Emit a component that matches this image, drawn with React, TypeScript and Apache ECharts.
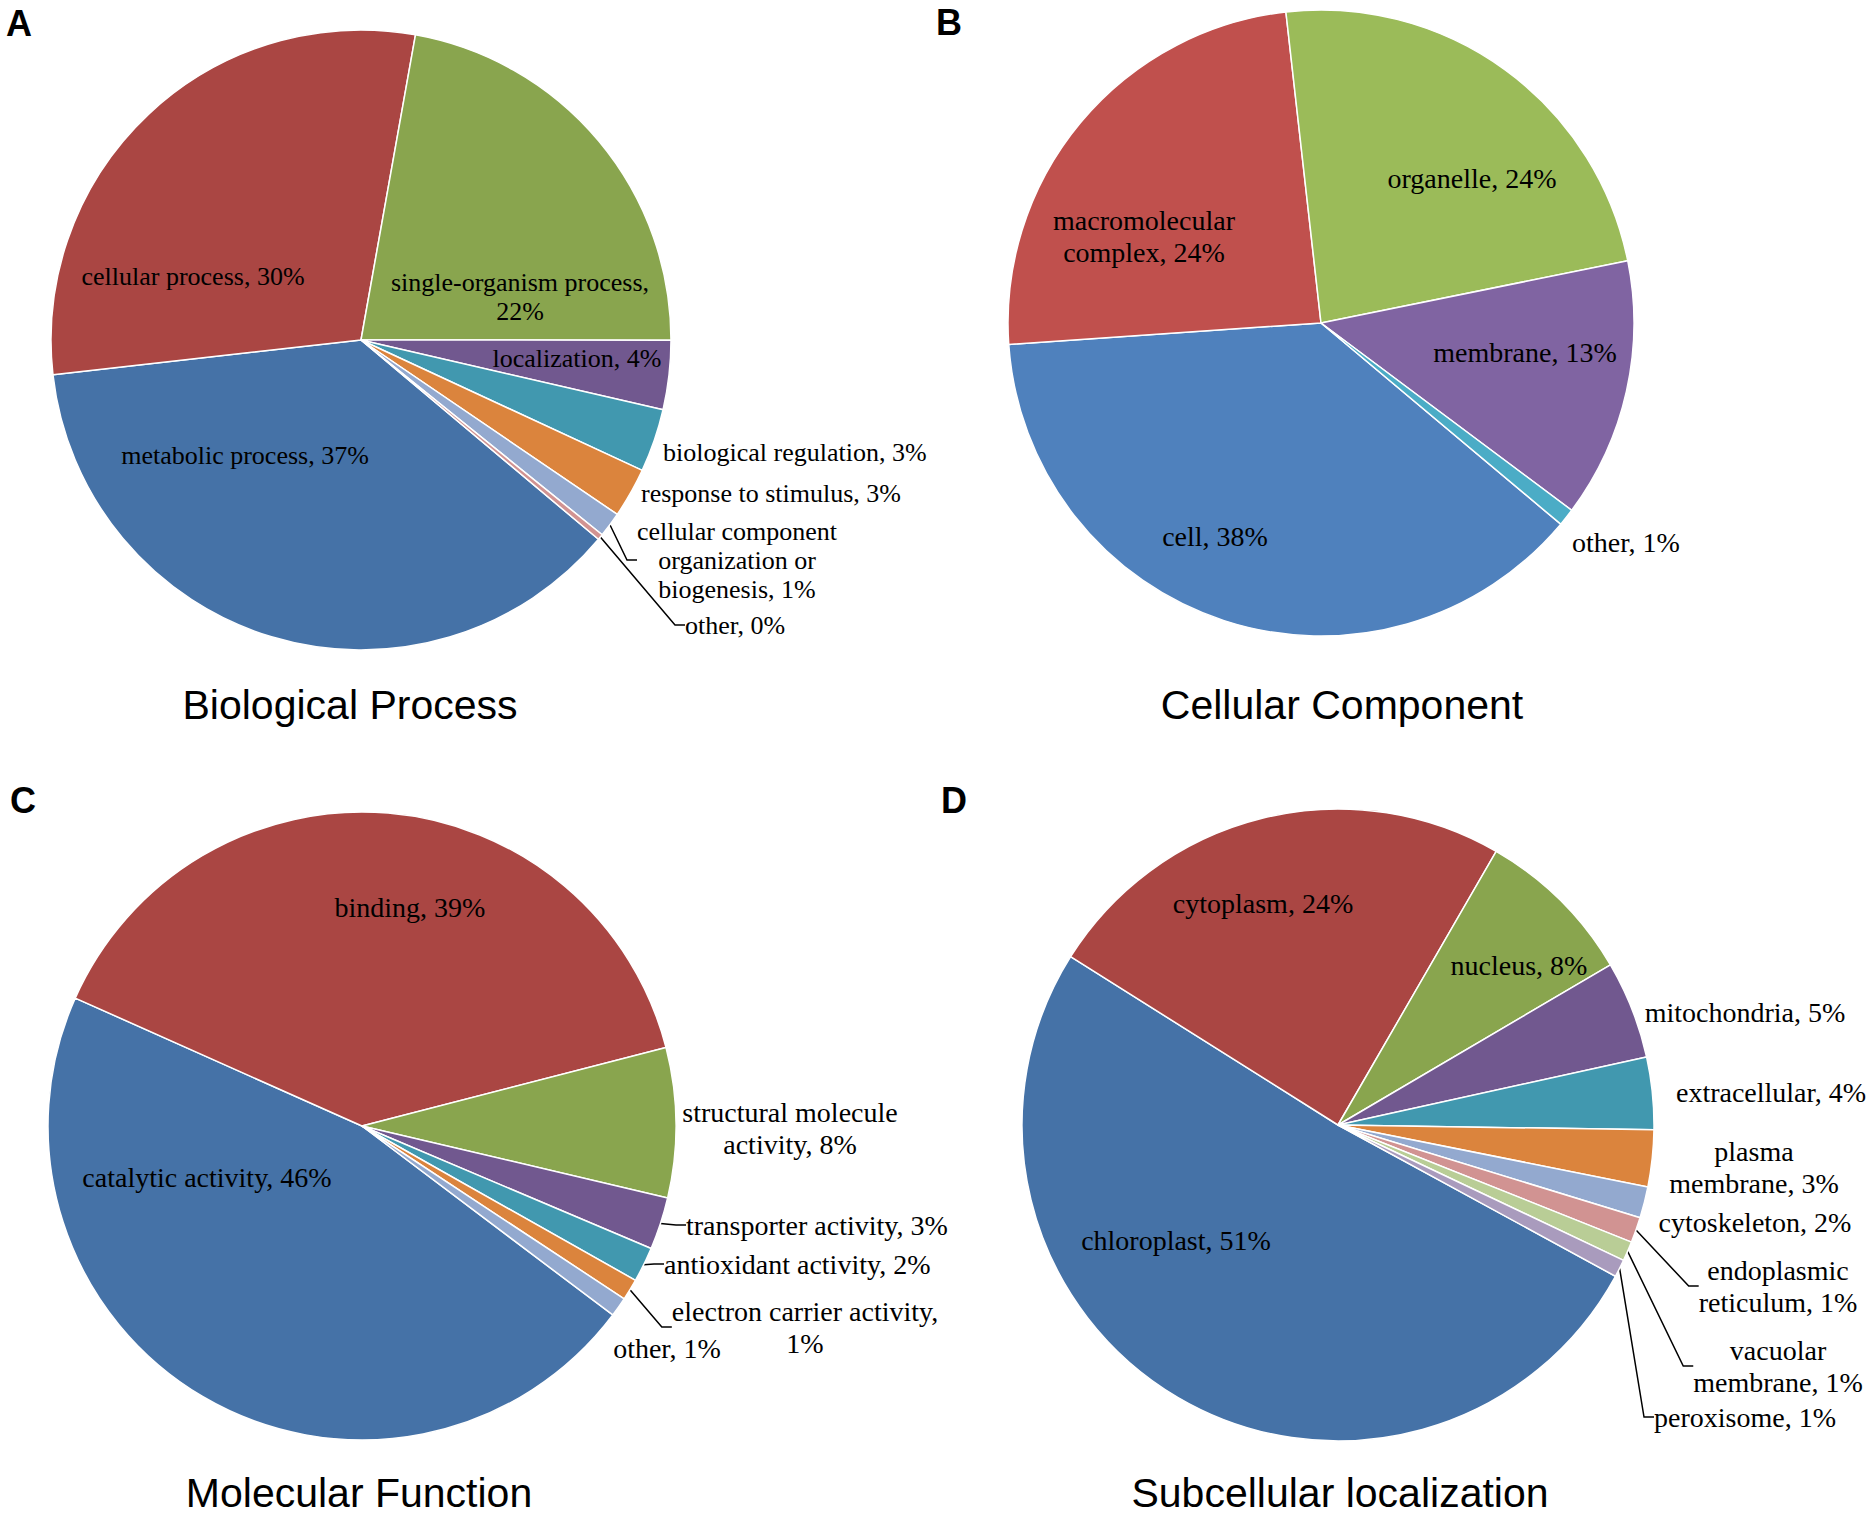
import React, { useEffect, useRef } from "react";
import * as echarts from "echarts";

// ---------------- data ----------------
const BP_NAMES = [
  "metabolic process",
  "cellular process",
  "single-organism process",
  "localization",
  "biological regulation",
  "response to stimulus",
  "cellular component organization or biogenesis",
  "other",
];
const BP_VALUES = [37.1, 29.6, 22.2, 3.6, 3.3, 2.6, 1.3, 0.3];

const CC_NAMES = ["cell", "macromolecular complex", "organelle", "membrane", "other"];
const CC_VALUES = [37.8, 24.3, 23.6, 13.4, 0.9];

const MF_NAMES = [
  "catalytic activity",
  "binding",
  "structural molecule activity",
  "transporter activity",
  "antioxidant activity",
  "electron carrier activity",
  "other",
];
const MF_VALUES = [46.4, 39.3, 7.7, 2.7, 1.8, 1.1, 1.0];

const SL_NAMES = [
  "chloroplast",
  "cytoplasm",
  "nucleus",
  "mitochondria",
  "extracellular",
  "plasma membrane",
  "cytoskeleton",
  "endoplasmic reticulum",
  "vacuolar membrane",
  "peroxisome",
];
const SL_VALUES = [51.0, 24.4, 8.2, 5.0, 3.7, 2.9, 1.6, 1.3, 1.0, 0.9];

const PANEL_LETTERS = ["A", "B", "C", "D"];
const PANEL_TITLES = [
  "Biological Process",
  "Cellular Component",
  "Molecular Function",
  "Subcellular localization",
];

// ---------------- label text wrapping (style) ----------------
const WRAPPED: Record<string, string> = {
  "cellular component organization or biogenesis": "cellular component\norganization or\nbiogenesis",
  "macromolecular complex": "macromolecular\ncomplex",
  "structural molecule activity": "structural molecule\nactivity",
  "plasma membrane": "plasma\nmembrane",
  "endoplasmic reticulum": "endoplasmic\nreticulum",
  "vacuolar membrane": "vacuolar\nmembrane",
};
const PCT_ON_NEW_LINE = new Set(["single-organism process", "electron carrier activity"]);

// ---------------- colours (style) ----------------
const PALETTE_DARK = [
  "#4572A7", "#AA4643", "#89A54E", "#71588F", "#4198AF",
  "#DB843D", "#93A9CF", "#D19392", "#B9CD96", "#A99BBD",
];
const PALETTE_LIGHT = ["#4F81BD", "#C0504D", "#9BBB59", "#8064A2", "#4BACC6"];

// ---------------- layout (style) ----------------
type LabelPos = [number, number, "left" | "center"];
const BP_LABEL_POS: LabelPos[] = [
  [-116, 115, "center"],
  [-168, -64, "center"],
  [159, -43, "center"],
  [216, 18, "center"],
  [302, 112, "left"],
  [280, 153, "left"],
  [376, 220, "center"],
  [324, 285, "left"],
];
const CC_LABEL_POS: LabelPos[] = [
  [-106, 213, "center"],
  [-177, -87, "center"],
  [151, -145, "center"],
  [204, 29, "center"],
  [251, 219, "left"],
];
const MF_LABEL_POS: LabelPos[] = [
  [-155, 51, "center"],
  [48, -219, "center"],
  [428, 2, "center"],
  [324, 99, "left"],
  [302, 138, "left"],
  [443, 201, "center"],
  [305, 222, "center"],
];
const SL_LABEL_POS: LabelPos[] = [
  [-162, 115, "center"],
  [-75, -222, "center"],
  [181, -160, "center"],
  [407, -113, "center"],
  [433, -33, "center"],
  [416, 42, "center"],
  [417, 97, "center"],
  [440, 161, "center"],
  [440, 241, "center"],
  [407, 292, "center"],
];

const PIES = [
  { names: BP_NAMES, values: BP_VALUES, center: [361, 340], radius: 310, startAngle: -40,
    colors: PALETTE_DARK, fontSize: 26, lineHeight: 29, labelPos: BP_LABEL_POS, lined: [6, 7] },
  { names: CC_NAMES, values: CC_VALUES, center: [1321, 323], radius: 313, startAngle: -40,
    colors: PALETTE_LIGHT, fontSize: 28, lineHeight: 32, labelPos: CC_LABEL_POS, lined: [] as number[] },
  { names: MF_NAMES, values: MF_VALUES, center: [362, 1126], radius: 314, startAngle: -37,
    colors: PALETTE_DARK, fontSize: 28, lineHeight: 32, labelPos: MF_LABEL_POS, lined: [3, 4, 5] },
  { names: SL_NAMES, values: SL_VALUES, center: [1338, 1125], radius: 316, startAngle: -28.6,
    colors: PALETTE_DARK, fontSize: 28, lineHeight: 32, labelPos: SL_LABEL_POS, lined: [7, 8, 9] },
];

const LETTER_POS = [[6, 23], [936, 22], [10, 800], [941, 800]];
const TITLE_POS = [[350, 705], [1342, 705], [359, 1493], [1340, 1493]];

function formatLabel(p: any) {
  const name = WRAPPED[p.name] ?? p.name;
  const sep = PCT_ON_NEW_LINE.has(p.name) ? ",\n" : ", ";
  return `${name}${sep}${Math.round(p.percent)}%`;
}

function buildOption() {
  const series = PIES.map((pie) => ({
    type: "pie",
    center: pie.center,
    radius: pie.radius,
    startAngle: pie.startAngle,
    clockwise: true,
    avoidLabelOverlap: false,
    silent: true,
    itemStyle: { borderColor: "#ffffff", borderWidth: 1.5 },
    label: {
      show: true,
      color: "#000000",
      fontFamily: "Liberation Serif",
      fontSize: pie.fontSize,
      lineHeight: pie.lineHeight,
      overflow: "none",
      formatter: formatLabel,
    },
    labelLine: {
      length: 4,
      length2: 10,
      smooth: false,
      lineStyle: { color: "#000000", width: 1.5 },
    },
    labelLayout: (params: any) => {
      const [dx, dy, align] = pie.labelPos[params.dataIndex];
      return {
        x: pie.center[0] + dx,
        y: pie.center[1] + dy,
        align,
        verticalAlign: "middle",
      };
    },
    data: pie.names.map((name, i) => {
      const lined = pie.lined.includes(i);
      return {
        name,
        value: pie.values[i],
        itemStyle: { color: pie.colors[i % pie.colors.length] },
        label: { position: lined ? "outside" : "inside", align: pie.labelPos[i][2] },
        labelLine: { show: lined },
      };
    }),
  }));

  const graphic: any[] = [];
  PANEL_LETTERS.forEach((t, i) => {
    graphic.push({
      type: "text",
      x: LETTER_POS[i][0],
      y: LETTER_POS[i][1],
      silent: true,
      style: {
        text: t,
        fill: "#000000",
        font: 'bold 36px "Liberation Sans"',
        align: "left",
        verticalAlign: "middle",
        textAlign: "left",
        textVerticalAlign: "middle",
      },
    });
  });
  PANEL_TITLES.forEach((t, i) => {
    graphic.push({
      type: "text",
      x: TITLE_POS[i][0],
      y: TITLE_POS[i][1],
      silent: true,
      style: {
        text: t,
        fill: "#000000",
        font: '41px "Liberation Sans"',
        align: "center",
        verticalAlign: "middle",
        textAlign: "center",
        textVerticalAlign: "middle",
      },
    });
  });

  return {
    animation: false,
    backgroundColor: "#ffffff",
    series,
    graphic,
  };
}

export default function App() {
  const ref = useRef<HTMLDivElement>(null);
  useEffect(() => {
    document.body.style.margin = "0";
    if (!ref.current) return;
    const chart = echarts.init(ref.current, undefined, { renderer: "svg" });
    chart.setOption(buildOption() as any);
    return () => chart.dispose();
  }, []);
  return <div ref={ref} style={{ width: 1872, height: 1517 }} />;
}
